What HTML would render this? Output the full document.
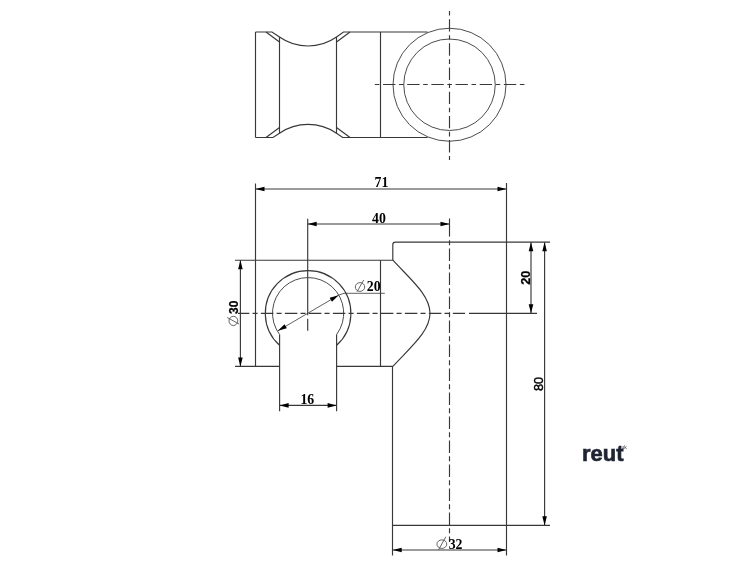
<!DOCTYPE html>
<html><head><meta charset="utf-8"><style>
html,body{margin:0;padding:0;background:#fff;}
body{width:756px;height:567px;overflow:hidden;position:relative;}
svg{position:absolute;left:0;top:0;will-change:transform;}
</style></head><body>
<svg width="756" height="567" viewBox="0 0 756 567">
<path d="M255.5,32 V137.5" fill="none" stroke="#383838" stroke-width="1.15" />
<path d="M255.5,32 H272 L279.5,37 A49.6,49.6 0 0 0 336.5,37 L343.5,32 H427.6" fill="none" stroke="#383838" stroke-width="1.15" />
<path d="M255.5,137.5 H273 L279.5,133.2 A50.5,50.5 0 0 1 336.5,133.2 L342.7,137.5 H427.6" fill="none" stroke="#383838" stroke-width="1.15" />
<path d="M266,32 L279.5,42" fill="none" stroke="#383838" stroke-width="1.15" />
<path d="M350,32 L336.5,42" fill="none" stroke="#383838" stroke-width="1.15" />
<path d="M266,137.5 L279.5,127.5" fill="none" stroke="#383838" stroke-width="1.15" />
<path d="M350,137.5 L336.5,127.5" fill="none" stroke="#383838" stroke-width="1.15" />
<path d="M279.5,37 V133.2" fill="none" stroke="#383838" stroke-width="1.15" />
<path d="M336.5,37 V133.2" fill="none" stroke="#383838" stroke-width="1.15" />
<path d="M380.5,32 V137.5" fill="none" stroke="#383838" stroke-width="1.15" />
<circle cx="449.5" cy="84.75" r="56.5" fill="none" stroke="#383838" stroke-width="0.9"/>
<circle cx="449.5" cy="84.75" r="45.75" fill="none" stroke="#383838" stroke-width="0.9"/>
<line x1="374.8" y1="84.5" x2="524.5" y2="84.5" stroke="#383838" stroke-width="1.15" stroke-dasharray="4.6 3.6 12.4 3.57"/>
<line x1="449.5" y1="11" x2="449.5" y2="160" stroke="#383838" stroke-width="1.15" stroke-dasharray="4.6 3.6 12.4 3.57"/>
<line x1="255.5" y1="189" x2="506.5" y2="189" stroke="#383838" stroke-width="1.15" />
<polygon points="255.50,189.00 264.50,186.70 264.50,191.30" fill="#000"/>
<polygon points="506.50,189.00 497.50,191.30 497.50,186.70" fill="#000"/>
<text x="374.5" y="186.8" font-family="&quot;Liberation Serif&quot;, serif" font-size="13.8" font-weight="bold" text-anchor="start" fill="#000" >71</text>
<line x1="255.5" y1="183.5" x2="255.5" y2="366.4" stroke="#383838" stroke-width="1.15" />
<line x1="506.5" y1="183" x2="506.5" y2="555.5" stroke="#383838" stroke-width="1.15" />
<line x1="307.7" y1="224" x2="449.5" y2="224" stroke="#383838" stroke-width="1.15" />
<polygon points="307.70,224.00 316.70,221.70 316.70,226.30" fill="#000"/>
<polygon points="449.50,224.00 440.50,226.30 440.50,221.70" fill="#000"/>
<text x="372" y="223.2" font-family="&quot;Liberation Serif&quot;, serif" font-size="13.8" font-weight="bold" text-anchor="start" fill="#000" >40</text>
<line x1="307.7" y1="218.7" x2="307.7" y2="315.2" stroke="#383838" stroke-width="1.15" />
<line x1="307.7" y1="318.8" x2="307.7" y2="330.8" stroke="#383838" stroke-width="1.15" />
<line x1="449.5" y1="218.5" x2="449.5" y2="236.6" stroke="#383838" stroke-width="1.15" />
<line x1="449.5" y1="240.2" x2="449.5" y2="542" stroke="#383838" stroke-width="1.15" stroke-dasharray="5 3.2 12.5 3.3"/>
<path d="M392.8,260.2 V244.7 Q392.8,242.1 395.4,242.1 H550" fill="none" stroke="#383838" stroke-width="1.15" />
<path d="M392.5,366.4 V555.5" fill="none" stroke="#383838" stroke-width="1.15" />
<line x1="392.5" y1="525.3" x2="550" y2="525.3" stroke="#383838" stroke-width="1.15" />
<path d="M392.9,260.2 C410,279 430,295 430,313.3 C430,331.6 410,347.6 392.9,366.4" fill="none" stroke="#383838" stroke-width="1.15" />
<line x1="235" y1="260.2" x2="392.9" y2="260.2" stroke="#383838" stroke-width="1.15" />
<line x1="235" y1="366.4" x2="279.6" y2="366.4" stroke="#383838" stroke-width="1.15" />
<line x1="336.6" y1="366.4" x2="392.9" y2="366.4" stroke="#383838" stroke-width="1.15" />
<line x1="380.5" y1="260.2" x2="380.5" y2="366.4" stroke="#383838" stroke-width="1.15" />
<line x1="240.4" y1="260.2" x2="240.4" y2="366.4" stroke="#383838" stroke-width="1.15" />
<polygon points="240.40,260.20 242.70,269.20 238.10,269.20" fill="#000"/>
<polygon points="240.40,366.40 238.10,357.40 242.70,357.40" fill="#000"/>
<path d="M279.6,345.3 A42.8,42.8 0 1 1 336.6,345.3" fill="none" stroke="#383838" stroke-width="1.15" />
<path d="M279.6,334.5 A35.6,35.6 0 1 1 336.6,334.5" fill="none" stroke="#4a4a4a" stroke-width="1.0" />
<line x1="279.6" y1="334.5" x2="279.6" y2="411.2" stroke="#383838" stroke-width="1.15" />
<line x1="336.6" y1="334.5" x2="336.6" y2="411.2" stroke="#383838" stroke-width="1.15" />
<line x1="279.6" y1="405.4" x2="336.6" y2="405.4" stroke="#383838" stroke-width="1.15" />
<polygon points="279.60,405.40 288.60,403.10 288.60,407.70" fill="#000"/>
<polygon points="336.60,405.40 327.60,407.70 327.60,403.10" fill="#000"/>
<text x="300.4" y="404.2" font-family="&quot;Liberation Serif&quot;, serif" font-size="13.8" font-weight="bold" text-anchor="start" fill="#000" >16</text>
<line x1="238" y1="313.3" x2="465" y2="313.3" stroke="#383838" stroke-width="1.15" stroke-dasharray="12.5 3.2 5 3.3" stroke-dashoffset="1.15"/>
<line x1="469" y1="313.3" x2="537" y2="313.3" stroke="#383838" stroke-width="1.15" />
<line x1="277.9" y1="330.8" x2="338.6" y2="295.2" stroke="#383838" stroke-width="0.8" />
<polygon points="277.90,330.80 284.50,324.26 286.83,328.23" fill="#000"/>
<polygon points="338.60,295.20 332.00,301.74 329.67,297.77" fill="#000"/>
<path d="M338.6,295.2 L344,293.3 H384.8" fill="none" stroke="#383838" stroke-width="0.8" />
<ellipse cx="360" cy="287" rx="4.7" ry="4.4" fill="none" stroke="#555" stroke-width="0.9"/>
<line x1="363.7" y1="280" x2="357" y2="291.8" stroke="#555" stroke-width="0.9" />
<text x="366.8" y="291.4" font-family="&quot;Liberation Serif&quot;, serif" font-size="13.8" font-weight="bold" text-anchor="start" fill="#000" >20</text>
<line x1="531" y1="242.2" x2="531" y2="313.3" stroke="#383838" stroke-width="1.15" />
<polygon points="531.00,242.20 533.30,251.20 528.70,251.20" fill="#000"/>
<polygon points="531.00,313.30 528.70,304.30 533.30,304.30" fill="#000"/>
<line x1="544.6" y1="242.2" x2="544.6" y2="525.3" stroke="#383838" stroke-width="1.15" />
<polygon points="544.60,242.20 546.90,251.20 542.30,251.20" fill="#000"/>
<polygon points="544.60,525.30 542.30,516.30 546.90,516.30" fill="#000"/>
<line x1="392.7" y1="550" x2="506.5" y2="550" stroke="#383838" stroke-width="1.15" />
<polygon points="392.70,550.00 401.70,547.70 401.70,552.30" fill="#000"/>
<polygon points="506.50,550.00 497.50,552.30 497.50,547.70" fill="#000"/>
<ellipse cx="441.85" cy="544.15" rx="4.9" ry="4.3" fill="none" stroke="#555" stroke-width="0.9"/>
<line x1="445.8" y1="536.8" x2="438.5" y2="549.9" stroke="#555" stroke-width="0.9" />
<text x="448.7" y="548.7" font-family="&quot;Liberation Serif&quot;, serif" font-size="13.8" font-weight="bold" text-anchor="start" fill="#000" >32</text>
<text x="0" y="0" font-family="&quot;Liberation Sans&quot;, sans-serif" font-size="12" font-weight="bold" text-anchor="start" fill="#000" stroke="#000" stroke-width="0.25" transform="translate(237.8,314) rotate(-90)">30</text>
<ellipse cx="233.4" cy="320.9" rx="4.4" ry="4.6" fill="none" stroke="#555" stroke-width="0.9"/>
<line x1="227.2" y1="317.5" x2="239" y2="324" stroke="#555" stroke-width="0.9" />
<text x="0" y="0" font-family="&quot;Liberation Sans&quot;, sans-serif" font-size="12.8" font-weight="bold" text-anchor="start" fill="#000" stroke="#000" stroke-width="0.25" transform="translate(529.5,284.8) rotate(-90)">20</text>
<text x="0" y="0" font-family="&quot;Liberation Sans&quot;, sans-serif" font-size="12.8" font-weight="normal" text-anchor="start" fill="#000" stroke="#000" stroke-width="0.45" transform="translate(543.1,391) rotate(-90)">80</text>
<text x="582" y="460.8" font-family="&quot;Liberation Sans&quot;, sans-serif" font-size="22" font-weight="bold" fill="#1f2432" stroke="#1f2432" stroke-width="0.6" textLength="41.5" lengthAdjust="spacingAndGlyphs">reut</text>
<text x="621.6" y="448.9" font-family="&quot;Liberation Sans&quot;, sans-serif" font-size="5" fill="#1f2432">uk</text>
</svg>

</body></html>
